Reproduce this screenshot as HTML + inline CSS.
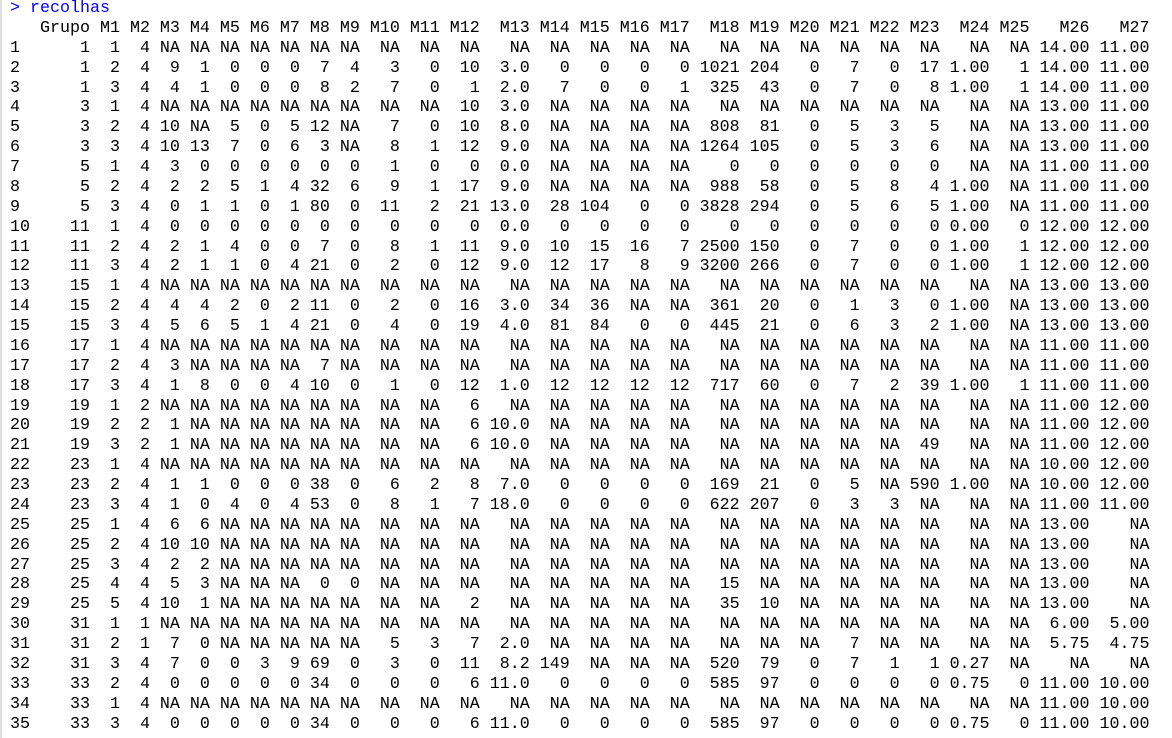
<!DOCTYPE html>
<html><head><meta charset="utf-8">
<style>
html,body{margin:0;padding:0;background:#fff;width:1172px;height:738px;overflow:hidden;}
#console{position:absolute;left:0;top:0;width:1172px;height:738px;border-left:2px solid #e0e0e0;box-sizing:border-box;}
pre{position:absolute;left:8px;top:-1px;margin:0;font-family:"Liberation Mono",monospace;font-size:16.67px;line-height:19.88px;color:#000;white-space:pre;}
.prompt{color:#0000ff;}
</style></head>
<body>
<div id="console">
<pre id="out"><span class="prompt">&gt; recolhas</span>
</pre>
</div>
<script>
const colNames = ["Grupo","M1","M2","M3","M4","M5","M6","M7","M8","M9","M10","M11","M12","M13","M14","M15","M16","M17","M18","M19","M20","M21","M22","M23","M24","M25","M26","M27"];
const NA23 = "NA NA NA NA NA NA NA NA NA NA NA NA NA NA NA NA NA NA NA NA NA NA NA";
const NA21 = "NA NA NA NA NA NA NA NA NA NA NA NA NA NA NA NA NA NA NA NA NA";
const rows = [
"1 1 4 "+NA23+" 14.00 11.00",
"1 2 4 9 1 0 0 0 7 4 3 0 10 3.0 0 0 0 0 1021 204 0 7 0 17 1.00 1 14.00 11.00",
"1 3 4 4 1 0 0 0 8 2 7 0 1 2.0 7 0 0 1 325 43 0 7 0 8 1.00 1 14.00 11.00",
"3 1 4 NA NA NA NA NA NA NA NA NA 10 3.0 NA NA NA NA NA NA NA NA NA NA NA NA 13.00 11.00",
"3 2 4 10 NA 5 0 5 12 NA 7 0 10 8.0 NA NA NA NA 808 81 0 5 3 5 NA NA 13.00 11.00",
"3 3 4 10 13 7 0 6 3 NA 8 1 12 9.0 NA NA NA NA 1264 105 0 5 3 6 NA NA 13.00 11.00",
"5 1 4 3 0 0 0 0 0 0 1 0 0 0.0 NA NA NA NA 0 0 0 0 0 0 NA NA 11.00 11.00",
"5 2 4 2 2 5 1 4 32 6 9 1 17 9.0 NA NA NA NA 988 58 0 5 8 4 1.00 NA 11.00 11.00",
"5 3 4 0 1 1 0 1 80 0 11 2 21 13.0 28 104 0 0 3828 294 0 5 6 5 1.00 NA 11.00 11.00",
"11 1 4 0 0 0 0 0 0 0 0 0 0 0.0 0 0 0 0 0 0 0 0 0 0 0.00 0 12.00 12.00",
"11 2 4 2 1 4 0 0 7 0 8 1 11 9.0 10 15 16 7 2500 150 0 7 0 0 1.00 1 12.00 12.00",
"11 3 4 2 1 1 0 4 21 0 2 0 12 9.0 12 17 8 9 3200 266 0 7 0 0 1.00 1 12.00 12.00",
"15 1 4 "+NA23+" 13.00 13.00",
"15 2 4 4 4 2 0 2 11 0 2 0 16 3.0 34 36 NA NA 361 20 0 1 3 0 1.00 NA 13.00 13.00",
"15 3 4 5 6 5 1 4 21 0 4 0 19 4.0 81 84 0 0 445 21 0 6 3 2 1.00 NA 13.00 13.00",
"17 1 4 "+NA23+" 11.00 11.00",
"17 2 4 3 NA NA NA NA 7 NA NA NA NA NA NA NA NA NA NA NA NA NA NA NA NA NA 11.00 11.00",
"17 3 4 1 8 0 0 4 10 0 1 0 12 1.0 12 12 12 12 717 60 0 7 2 39 1.00 1 11.00 11.00",
"19 1 2 NA NA NA NA NA NA NA NA NA 6 NA NA NA NA NA NA NA NA NA NA NA NA NA 11.00 12.00",
"19 2 2 1 NA NA NA NA NA NA NA NA 6 10.0 NA NA NA NA NA NA NA NA NA NA NA NA 11.00 12.00",
"19 3 2 1 NA NA NA NA NA NA NA NA 6 10.0 NA NA NA NA NA NA NA NA NA 49 NA NA 11.00 12.00",
"23 1 4 "+NA23+" 10.00 12.00",
"23 2 4 1 1 0 0 0 38 0 6 2 8 7.0 0 0 0 0 169 21 0 5 NA 590 1.00 NA 10.00 12.00",
"23 3 4 1 0 4 0 4 53 0 8 1 7 18.0 0 0 0 0 622 207 0 3 3 NA NA NA 11.00 11.00",
"25 1 4 6 6 "+NA21+" 13.00 NA",
"25 2 4 10 10 "+NA21+" 13.00 NA",
"25 3 4 2 2 "+NA21+" 13.00 NA",
"25 4 4 5 3 NA NA NA 0 0 NA NA NA NA NA NA NA NA 15 NA NA NA NA NA NA NA 13.00 NA",
"25 5 4 10 1 NA NA NA NA NA NA NA 2 NA NA NA NA NA 35 10 NA NA NA NA NA NA 13.00 NA",
"31 1 1 "+NA23+" 6.00 5.00",
"31 2 1 7 0 NA NA NA NA NA 5 3 7 2.0 NA NA NA NA NA NA NA 7 NA NA NA NA 5.75 4.75",
"31 3 4 7 0 0 3 9 69 0 3 0 11 8.2 149 NA NA NA 520 79 0 7 1 1 0.27 NA NA NA",
"33 2 4 0 0 0 0 0 34 0 0 0 6 11.0 0 0 0 0 585 97 0 0 0 0 0.75 0 11.00 10.00",
"33 1 4 "+NA23+" 11.00 10.00",
"33 3 4 0 0 0 0 0 34 0 0 0 6 11.0 0 0 0 0 585 97 0 0 0 0 0.75 0 11.00 10.00"
];
const cells = rows.map(r => r.split(" "));
const widths = colNames.map((n,i) => Math.max(n.length, ...cells.map(c => c[i].length)));
const rnW = String(rows.length).length;
const out = document.getElementById('out');
let header = " ".repeat(rnW);
colNames.forEach((n,i) => { header += " " + n.padStart(widths[i]); });
const hs = document.createElement('span');


hs.textContent = header + "\n";
out.appendChild(hs);
cells.forEach((c,ri) => {
  let line = String(ri+1).padEnd(rnW);
  c.forEach((v,i) => { line += " " + v.padStart(widths[i]); });
  const s = document.createElement('span');
  
  
  s.textContent = line + "\n";
  out.appendChild(s);
});
</script>
</body></html>
